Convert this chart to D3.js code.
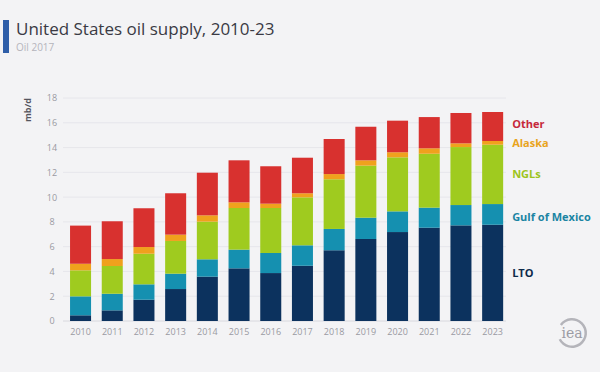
<!DOCTYPE html>
<meta charset="utf-8">
<script src="https://d3js.org/d3.v7.min.js"></script>
<style>
  body { margin: 0; background: #f3f3f5; }
  text { font-family: "Open Sans", sans-serif; }
</style>
<body>
<div id="chart"></div>
<script>
// values, mb/d
var years = ["2010","2011","2012","2013","2014","2015","2016","2017","2018","2019","2020","2021","2022","2023"];
var lto    = [0.46, 0.86, 1.72, 2.58, 3.58, 4.25, 3.87, 4.46, 5.71, 6.62, 7.18, 7.53, 7.72, 7.77];
var gulf   = [1.53, 1.34, 1.24, 1.24, 1.40, 1.51, 1.62, 1.65, 1.72, 1.72, 1.67, 1.62, 1.64, 1.67];
var ngls   = [2.10, 2.24, 2.47, 2.64, 3.04, 3.36, 3.63, 3.87, 4.01, 4.20, 4.36, 4.35, 4.68, 4.79];
var alaska = [0.53, 0.56, 0.54, 0.51, 0.51, 0.46, 0.35, 0.33, 0.42, 0.43, 0.41, 0.44, 0.30, 0.30];
var other  = [3.08, 3.05, 3.13, 3.34, 3.44, 3.39, 3.02, 2.87, 2.83, 2.71, 2.55, 2.52, 2.45, 2.34];
var yTicks = [0, 2, 4, 6, 8, 10, 12, 14, 16, 18];

var keys = ["LTO", "Gulf of Mexico", "NGLs", "Alaska", "Other"];
var fills = ["#0c325e", "#1590b0", "#9fcb1f", "#f0a11d", "#d8312f"];
var labelColors = ["#0d2a4a", "#1a84a3", "#9cc420", "#e9a41c", "#c6283b"];
var labelNudge = [0, 3, 0, 0, -2];

var width = 600, height = 372;

var rows = years.map(function(y, i) {
  return { year: y, "LTO": lto[i], "Gulf of Mexico": gulf[i], "NGLs": ngls[i], "Alaska": alaska[i], "Other": other[i] };
});

var svg = d3.select("#chart")
  .append("svg")
    .attr("width", width)
    .attr("height", height);

svg.append("rect")
  .attr("width", width)
  .attr("height", height)
  .attr("fill", "#f3f3f5");

// title block
svg.append("rect")
  .attr("x", 3).attr("y", 20)
  .attr("width", 6).attr("height", 33)
  .attr("fill", "#2f5ea8");

svg.append("text")
  .attr("x", 16).attr("y", 35)
  .style("font-size", "17px")
  .attr("fill", "#3a3a44")
  .text("United States oil supply, 2010-23");

svg.append("text")
  .attr("x", 16).attr("y", 51)
  .style("font-size", "10px")
  .attr("fill", "#b5b5bc")
  .text("Oil 2017");

var x = d3.scaleBand()
  .domain(years)
  .range([64.7, 508.5])
  .paddingInner(0.337)
  .paddingOuter(0.1685);

var y = d3.scaleLinear()
  .domain([0, 18])
  .range([321, 98]);

// gridlines
svg.append("g")
  .selectAll("line")
  .data(yTicks)
  .join("line")
    .attr("x1", 63).attr("x2", 506)
    .attr("y1", function(d) { return y(d); })
    .attr("y2", function(d) { return y(d); })
    .attr("stroke", function(d) { return d === 0 ? "#d8d8de" : "#e6e6eb"; })
    .attr("stroke-width", 1);

var yAxis = svg.append("g")
  .attr("transform", "translate(57,0)")
  .call(d3.axisLeft(y).tickValues(yTicks).tickSize(0).tickPadding(0));
yAxis.select(".domain").remove();
yAxis.selectAll("text")
  .attr("text-anchor", "middle")
  .attr("x", -5)
  .style("font-family", "Open Sans, sans-serif")
  .style("font-size", "9px")
  .attr("fill", "#9a9aa2");

var xAxis = svg.append("g")
  .attr("transform", "translate(0,321)")
  .call(d3.axisBottom(x).tickSize(0).tickPadding(8));
xAxis.select(".domain").remove();
xAxis.selectAll("text")
  .style("font-family", "Open Sans, sans-serif")
  .style("font-size", "9px")
  .attr("fill", "#9a9aa2");

svg.append("text")
  .attr("transform", "translate(31,110) rotate(-90)")
  .attr("text-anchor", "middle")
  .style("font-size", "9px")
  .style("font-weight", "bold")
  .attr("fill", "#55555e")
  .text("mb/d");

var stacked = d3.stack().keys(keys)(rows);

svg.append("g")
  .selectAll("g")
  .data(stacked)
  .join("g")
    .attr("fill", function(d, i) { return fills[i]; })
  .selectAll("rect")
  .data(function(d) { return d; })
  .join("rect")
    .attr("x", function(d) { return x(d.data.year); })
    .attr("y", function(d) { return y(d[1]); })
    .attr("height", function(d) { return y(d[0]) - y(d[1]); })
    .attr("width", x.bandwidth());

// series labels beside the last bar
var last = years.length - 1;
svg.append("g")
  .selectAll("text")
  .data(stacked)
  .join("text")
    .attr("x", x(years[last]) + x.bandwidth() + 9)
    .attr("y", function(d, i) {
      return y((d[last][0] + d[last][1]) / 2) + 4 + labelNudge[i];
    })
    .style("font-size", "11px")
    .style("font-weight", "bold")
    .attr("fill", function(d, i) { return labelColors[i]; })
    .text(function(d) { return d.key; });

// iea logo
var logo = svg.append("g").attr("transform", "translate(572,333)");
logo.append("path")
  .attr("d", d3.arc()({ innerRadius: 12.5, outerRadius: 15, startAngle: -0.3 * Math.PI, endAngle: 1.35 * Math.PI }))
  .attr("fill", "#b4b4ba");
logo.append("text")
  .attr("text-anchor", "middle")
  .attr("y", 5)
  .style("font-size", "14px")
  .style("font-family", "DejaVu Serif, serif")
  .attr("fill", "#9c9ca4")
  .text("iea");
</script>
</body>
